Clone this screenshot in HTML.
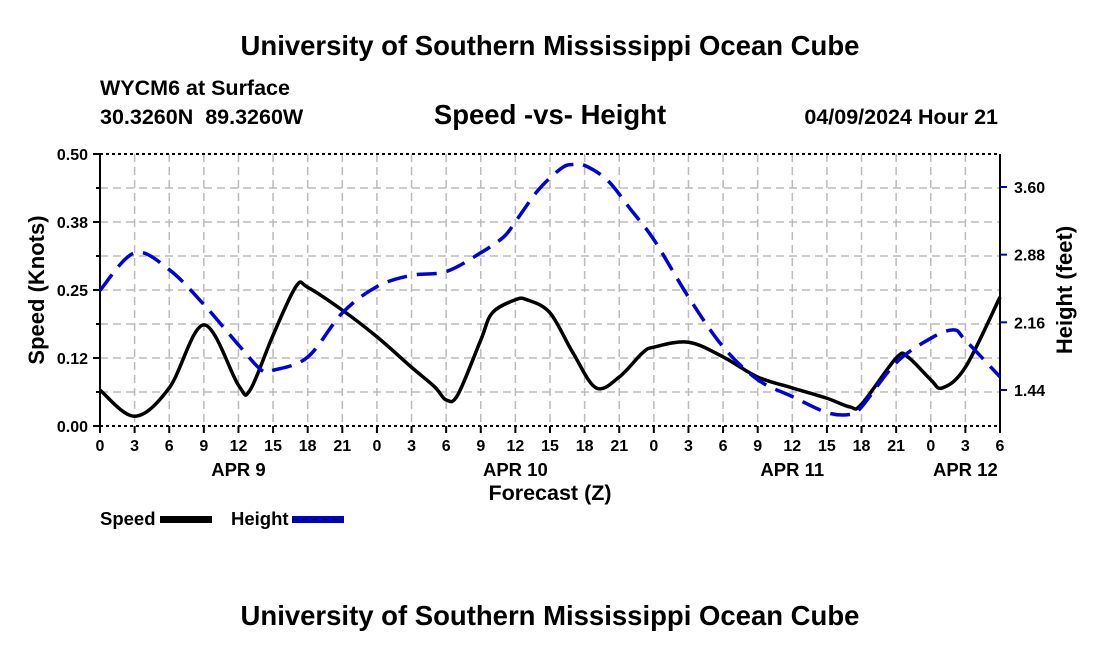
<!DOCTYPE html>
<html><head><meta charset="utf-8"><style>
body{margin:0;background:#fff;font-family:"Liberation Sans",sans-serif;}
svg text{font-family:"Liberation Sans",sans-serif;font-weight:bold;}
</style></head><body>
<svg id="c" width="1100" height="650">
<text x="550" y="55" text-anchor="middle" font-size="27.5">University of Southern Mississippi Ocean Cube</text>
<text x="100" y="95" font-size="21.5">WYCM6 at Surface</text>
<text x="100" y="124" font-size="21.5" xml:space="preserve">30.3260N  89.3260W</text>
<text x="550" y="124" text-anchor="middle" font-size="27.5">Speed -vs- Height</text>
<text x="998" y="124" text-anchor="end" font-size="21.5">04/09/2024 Hour 21</text>
<text x="550" y="625" text-anchor="middle" font-size="27.5">University of Southern Mississippi Ocean Cube</text>
<g id="grid"></g><g id="axes"></g><g id="series"></g>
<text transform="translate(44,290) rotate(-90)" text-anchor="middle" font-size="22">Speed (Knots)</text>
<text transform="translate(1072,290) rotate(-90)" text-anchor="middle" font-size="22">Height (feet)</text>
<text x="550" y="500" text-anchor="middle" font-size="21.5">Forecast (Z)</text>
<g><text x="100" y="525" font-size="18.5">Speed</text><rect x="160" y="516" width="52" height="7" fill="#000"/></g>
<g><text x="231" y="525" font-size="18.5">Height</text><rect x="292" y="516" width="52" height="7" fill="#0000cc"/><line x1="292" y1="519.5" x2="344" y2="519.5" stroke="#000" stroke-dasharray="6 4" stroke-width="1"/></g>
</svg>
<script>
const hours=[0,3,6,9,12,13,15,17,18,21,24,27,29,30,31,33,34,36,37,39,41,43,45,47,48,51,54,57,60,63,65,66,69,70,72,73,75,78];
const speedVals=[0.066,0.018,0.070,0.186,0.075,0.066,0.167,0.257,0.255,0.213,0.164,0.108,0.072,0.048,0.057,0.158,0.208,0.232,0.232,0.208,0.134,0.070,0.090,0.134,0.145,0.154,0.127,0.090,0.070,0.051,0.035,0.040,0.125,0.127,0.085,0.070,0.108,0.237];
const hHours=[0,3,6,9,12,14,15,18,21,24,27,30,33,35,36,38,40,41,42,44,46,48,51,54,57,60,63,65,66,69,72,74,75,78];
const heightVals=[2.50,2.90,2.72,2.35,1.92,1.65,1.65,1.79,2.26,2.54,2.66,2.70,2.90,3.07,3.23,3.57,3.80,3.84,3.83,3.67,3.36,3.04,2.43,1.90,1.55,1.37,1.20,1.18,1.26,1.73,1.99,2.08,1.97,1.58];
const yTicks=["0.00","0.12","0.25","0.38","0.50"];
const y2Ticks=[1.44,2.16,2.88,3.60];
const xLabels=[0,3,6,9,12,15,18,21,0,3,6,9,12,15,18,21,0,3,6,9,12,15,18,21,0,3,6];
const days=[["APR 9",12],["APR 10",36],["APR 11",60],["APR 12",75]];
const X0=100,X1=1000,Y0=426,Y1=154;
const xs=h=>X0+h*(X1-X0)/78;
const ys=v=>Y0-v*(Y0-Y1)/0.5;
const yH=f=>187+(3.60-f)*(390-187)/(3.60-1.44);
const NS='http://www.w3.org/2000/svg';
function mk(p,t,a){const e=document.createElementNS(NS,t);for(const k in a)e.setAttribute(k,a[k]);p.appendChild(e);return e;}
const grid=document.getElementById('grid'),axes=document.getElementById('axes'),ser=document.getElementById('series');
for(let i=1;i<8;i++){const y=Y0-i*(Y0-Y1)/8;const l=mk(grid,'line',{x1:X0,x2:X1,y1:y,y2:y,stroke:'#bbb','stroke-width':1.5,'stroke-dasharray':'8 5'});

}
for(let i=1;i<26;i++){const x=xs(i*3);const l=mk(grid,'line',{x1:x,x2:x,y1:Y1,y2:Y0,stroke:'#bbb','stroke-width':1.5,'stroke-dasharray':'8 5'});

}
mk(axes,'line',{x1:X0,x2:X1,y1:Y1,y2:Y1,stroke:'#000','stroke-width':2,'stroke-dasharray':'3 3'});
mk(axes,'line',{x1:X0,x2:X1,y1:Y0,y2:Y0,stroke:'#000','stroke-width':2,'stroke-dasharray':'3 3'});
mk(axes,'line',{x1:X0,x2:X0,y1:Y1,y2:Y0,stroke:'#000','stroke-width':2});
mk(axes,'line',{x1:X1,x2:X1,y1:Y1,y2:Y0,stroke:'#000','stroke-width':2});
yTicks.forEach((t,i)=>{const y=Y0-i*(Y0-Y1)/4;mk(axes,'line',{x1:X0-7,x2:X0,y1:y,y2:y,stroke:'#000','stroke-width':2});
const e=mk(axes,'text',{x:X0-12,y:y+6,'text-anchor':'end','font-size':16});e.textContent=t;

});
for(let i=0;i<4;i++){const y=Y0-(i+0.5)*(Y0-Y1)/4;mk(axes,'line',{x1:X0-4,x2:X0,y1:y,y2:y,stroke:'#000','stroke-width':2});}
y2Ticks.forEach(t=>{const y=yH(t);mk(axes,'line',{x1:X1,x2:X1+7,y1:y,y2:y,stroke:'#0000cc','stroke-width':2});
const e=mk(axes,'text',{x:X1+14,y:y+6,'font-size':16});e.textContent=t.toFixed(2);

});
xLabels.forEach((t,i)=>{const x=xs(i*3);mk(axes,'line',{x1:x,x2:x,y1:Y0,y2:Y0+7,stroke:'#000','stroke-width':2});
const e=mk(axes,'text',{x:x,y:Y0+25,'text-anchor':'middle','font-size':16});e.textContent=t;

});
days.forEach(d=>{const e=mk(axes,'text',{x:xs(d[1]),y:Y0+50,'text-anchor':'middle','font-size':18.5});e.textContent=d[0];

});
function path(pts){let d='M'+pts[0][0]+','+pts[0][1];for(let i=0;i<pts.length-1;i++){const p0=pts[i-1]||pts[i],p1=pts[i],p2=pts[i+1],p3=pts[i+2]||p2;
d+=' C'+(p1[0]+(p2[0]-p0[0])/6)+','+(p1[1]+(p2[1]-p0[1])/6)+' '+(p2[0]-(p3[0]-p1[0])/6)+','+(p2[1]-(p3[1]-p1[1])/6)+' '+p2[0]+','+p2[1];}return d;}
const sp=mk(ser,'path',{d:path(hours.map((h,i)=>[xs(h),ys(speedVals[i])])),fill:'none',stroke:'#000','stroke-width':3.5});


const hp=mk(ser,'path',{d:path(hHours.map((h,i)=>[xs(h),yH(heightVals[i])])),fill:'none',stroke:'#0000dd','stroke-width':3.5,'stroke-dasharray':'20 10'});


</script>
</body></html>
